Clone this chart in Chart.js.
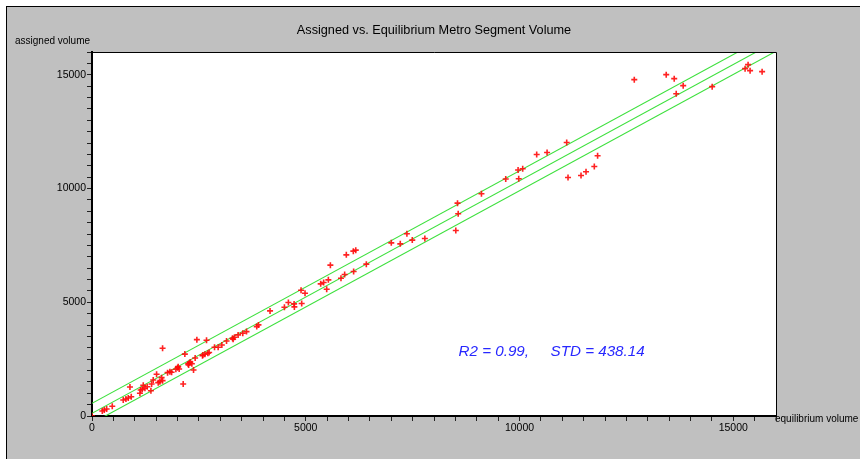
<!DOCTYPE html>
<html>
<head>
<meta charset="utf-8">
<script src="https://cdn.jsdelivr.net/npm/chart.js@4/dist/chart.umd.min.js"></script>
<style>
html,body{margin:0;padding:0;background:#fff;}
canvas{display:block;}
</style>
</head>
<body>
<canvas id="c" width="860" height="459"></canvas>
<script>
// ---- data ----
const equilibriumVolume = [
  0,241,287,343,474,731,794,848,918,888,1138,1175,1121,1238,1292,1378,1199,1394,1432,1549,1588,1651,1628,1511,1651,
  1768,1822,1862,1962,2002,2016,2039,2133,2172,2250,2280,2300,2336,2260,2375,2413,2453,2593,2585,2640,2710,2740,2679,
  2866,2951,3037,3147,3287,3301,3333,3418,3527,3614,3854,3894,4165,4501,4594,4727,4734,4905,4890,4983,5349,5419,5490,
  5529,5576,5824,5910,5949,6113,6170,6120,6417,7001,7211,7366,7492,7786,8510,8550,8566,9110,9678,9982,9967,10075,
  10402,10645,11104,11135,11439,11556,11750,11827,12685,13432,13619,13829,13666,14507,15277,15347,15394,15675
];
const assignedVolume = [
  0,220,264,308,427,704,748,792,849,1276,1144,1174,999,1219,1289,1113,1351,1408,1584,1465,1509,1553,1685,1835,2979,
  1905,1949,1923,2055,2126,2170,2068,1408,2720,2290,2340,2376,2300,2244,2024,2552,3357,2684,2653,2715,2759,2790,3331,
  3023,3023,3124,3300,3419,3375,3463,3564,3639,3710,3929,4004,4620,4781,4986,4928,4796,4943,5529,5397,5808,5866,5573,
  5984,6631,6057,6219,7084,7247,7290,6351,6675,7612,7568,8008,7731,7801,8153,9357,8888,9768,10415,10428,10811,10868,
  11497,11585,12025,10485,10573,10736,10970,11440,14784,15004,14828,14520,14168,14476,15268,15444,15180,15136
];
const fitIntercept = 120;
const fitSlope = 1.022;
const fitStd = 438.14;
const fitR2 = 0.99;
const axisRange = [0, 16000];
const labelledTicks = [0, 5000, 10000, 15000];
const chartTitle = 'Assigned vs. Equilibrium Metro Segment Volume';
const yTitle = 'assigned volume';
const xTitle = 'equilibrium volume';

const points = equilibriumVolume.map((x, i) => ({x: x, y: assignedVolume[i]}));
function fitLine(offset) {
  return axisRange.map(x => ({x: x, y: fitIntercept + offset + fitSlope * x}));
}

const FONT = "'Liberation Sans', Arial, sans-serif";

const framePlugin = {
  id: 'frame',
  beforeDraw(chart) {
    const ctx = chart.ctx, a = chart.chartArea;
    ctx.save();
    ctx.fillStyle = '#ffffff';
    ctx.fillRect(0, 0, chart.width, chart.height);
    ctx.fillStyle = '#c0c0c0';
    ctx.fillRect(6, 6, chart.width - 6, chart.height - 6);
    ctx.fillStyle = '#000';
    ctx.fillRect(6, 6, chart.width - 6, 1);
    ctx.fillRect(6, 6, 1, chart.height - 6);
    ctx.fillStyle = '#ffffff';
    ctx.fillRect(a.left, a.top, a.right - a.left, a.bottom - a.top);
    // titles
    ctx.fillStyle = '#000';
    ctx.font = '12.7px ' + FONT;
    ctx.textAlign = 'center';
    ctx.textBaseline = 'alphabetic';
    ctx.fillText(chartTitle, 434, 34);
    ctx.font = '10px ' + FONT;
    ctx.textAlign = 'left';
    ctx.fillText(yTitle, 15, 44);
    ctx.fillText(xTitle, a.right - 1, a.bottom + 6);
    ctx.restore();
  },
  afterDraw(chart) {
    const ctx = chart.ctx, a = chart.chartArea;
    ctx.save();
    ctx.strokeStyle = '#000';
    ctx.lineWidth = 1;
    ctx.beginPath();
    ctx.moveTo(a.left, a.top + 0.5);
    ctx.lineTo(a.right + 0.5, a.top + 0.5);
    ctx.lineTo(a.right + 0.5, a.bottom);
    ctx.stroke();
    // stats text
    const xs = chart.scales.x, ys = chart.scales.y;
    ctx.fillStyle = 'rgb(40,40,255)';
    ctx.font = 'italic 15.2px ' + FONT;
    ctx.textBaseline = 'alphabetic';
    ctx.textAlign = 'left';
    const px = xs.getPixelForValue(8574), py = ys.getPixelForValue(2904) + 6;
    ctx.fillText('R2 = ' + fitR2.toFixed(2) + ',', px, py);
    ctx.fillText('STD = ' + fitStd.toFixed(2), px + 92, py);
    ctx.restore();
  }
};

const tickCb = v => labelledTicks.includes(v) ? String(v) : '';

new Chart(document.getElementById('c'), {
  type: 'scatter',
  data: {
    datasets: [
      {data: points, pointStyle: 'cross', pointRadius: 3, borderColor: 'rgba(255,10,10,0.9)', backgroundColor: 'rgba(255,10,10,0.9)', borderWidth: 1.6, order: 0},
      {data: fitLine(fitStd), showLine: true, pointRadius: 0, borderColor: '#3ee03e', borderWidth: 1.1, order: 1},
      {data: fitLine(0), showLine: true, pointRadius: 0, borderColor: '#3ee03e', borderWidth: 1.1, order: 1},
      {data: fitLine(-fitStd), showLine: true, pointRadius: 0, borderColor: '#3ee03e', borderWidth: 1.1, order: 1}
    ]
  },
  options: {
    responsive: false,
    animation: false,
    devicePixelRatio: 1,
    layout: {padding: {left: 32, right: 84, top: 52, bottom: 13}},
    plugins: {legend: {display: false}, tooltip: {enabled: false}, title: {display: false}},
    scales: {
      x: {
        type: 'linear', min: axisRange[0], max: axisRange[1],
        afterFit: s => { s.height = 30; },
        grid: {drawOnChartArea: false, drawTicks: true, tickLength: 5, color: '#222', lineWidth: 1},
        border: {display: true, color: '#000', width: 2},
        ticks: {stepSize: 500, autoSkip: false, maxRotation: 0, padding: 1, color: '#000', font: {family: FONT, size: 10.5}, callback: tickCb}
      },
      y: {
        type: 'linear', min: axisRange[0], max: axisRange[1],
        afterFit: s => { s.width = 60; },
        grid: {drawOnChartArea: false, drawTicks: true, tickLength: 5, color: '#222', lineWidth: 1},
        border: {display: true, color: '#000', width: 2},
        ticks: {stepSize: 500, autoSkip: false, padding: 1, color: '#000', font: {family: FONT, size: 10.5}, callback: tickCb}
      }
    }
  },
  plugins: [framePlugin]
});
</script>
</body>
</html>
